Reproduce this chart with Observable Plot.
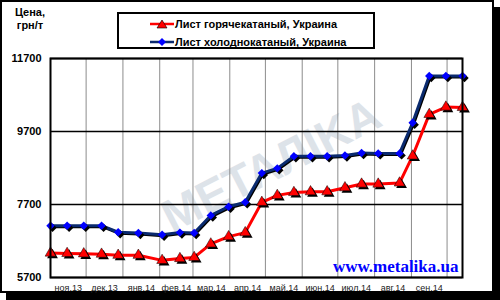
<!DOCTYPE html>
<html>
<head>
<meta charset="utf-8">
<script src="https://cdn.jsdelivr.net/npm/d3@7"></script>
<script src="https://cdn.jsdelivr.net/npm/@observablehq/plot@0.6"></script>
<style>
  html, body { margin: 0; padding: 0; background: #fff; }
  #wrap { position: relative; width: 500px; height: 300px; overflow: hidden; font-family: "Liberation Sans", Arial, sans-serif; }
  #box { position: absolute; left: 0; top: 0; width: 490px; height: 289px; border: 2px solid #000; box-shadow: 6px 7px 0 #000; background: #fff; }
  #chart { position: absolute; left: 0; top: 0; }
  #ytitle { position: absolute; left: 5px; top: 6px; width: 50px; text-align: center; font-weight: bold; font-size: 11px; line-height: 13px; color: #000; }
  #legend { position: absolute; left: 117px; top: 12px; width: 254px; height: 33px; border: 2px solid #000; background: #fff; }
  .item { position: absolute; left: 31px; height: 14px; display: flex; align-items: center; font-weight: bold; font-size: 11px; color: #000; white-space: nowrap; }
  .item svg { margin-right: 1px; }
</style>
</head>
<body>
<div id="wrap">
  <div id="box"></div>
  <div id="chart"></div>
  <div id="ytitle">Цена,<br>грн/т</div>
  <div id="legend"></div>
</div>
<script>
// ---- data ----
const dates = ["2013-11-01","2013-11-15","2013-11-29","2013-12-14","2013-12-28","2014-01-14","2014-02-03","2014-02-18","2014-03-02","2014-03-16","2014-03-31","2014-04-14","2014-04-28","2014-05-11","2014-05-25","2014-06-08","2014-06-22","2014-07-07","2014-07-21","2014-08-04","2014-08-22","2014-09-02","2014-09-16","2014-09-30","2014-10-14"];
const hotRolled  = [6370,6360,6350,6340,6310,6310,6170,6220,6250,6620,6820,6930,7760,7950,8030,8050,8050,8160,8260,8260,8290,9030,10170,10370,10360];
const coldRolled = [7120,7120,7120,7120,6940,6920,6870,6930,6920,7400,7640,7760,8560,8690,9020,9020,9020,9040,9110,9100,9100,9940,11220,11220,11220];
const seriesNames = ["Лист горячекатаный, Украина", "Лист холоднокатаный, Украина"];
const monthStarts = ["2013-11-01","2013-12-01","2014-01-01","2014-02-01","2014-03-01","2014-04-01","2014-05-01","2014-06-01","2014-07-01","2014-08-01","2014-09-01","2014-10-01"];
const monthLabels = ["ноя.13","дек.13","янв.14","фев.14","мар.14","апр.14","май.14","июн.14","июл.14","авг.14","сен.14"];
const yTicks = [5700, 7700, 9700, 11700];
const xStart = "2013-11-01", xEnd = "2014-10-14";
const siteText = "www.metalika.ua";
const logoText = "METAЛIKA";

const parse = d3.utcParse("%Y-%m-%d");
const red = "#ff0000", blue = "#0000ff", navy = "#0a2a6e";

const hot = dates.map((d, i) => ({date: parse(d), value: hotRolled[i]}));
const cold = dates.map((d, i) => ({date: parse(d), value: coldRolled[i]}));
const starts = monthStarts.map(parse);
const labels = monthLabels.map((t, i) => ({date: new Date((+starts[i] + +starts[i + 1]) / 2), text: t}));

const chart = Plot.plot({
  width: 500,
  height: 300,
  marginLeft: 50,
  marginRight: 38,
  marginTop: 58,
  marginBottom: 23,
  style: {background: "transparent", fontFamily: "Liberation Sans, Arial, sans-serif"},
  x: {type: "utc", domain: [parse(xStart), parse(xEnd)], axis: null},
  y: {domain: [5700, 11700], axis: null},
  marks: [
    Plot.text([logoText], {frameAnchor: "middle", dx: 15, dy: -2, rotate: -27, fontSize: 46, fontWeight: "bold", fill: "#dde3e9"}),
    Plot.ruleX(starts.slice(1), {stroke: "#8c8c8c", strokeWidth: 1}),
    Plot.ruleY(yTicks, {stroke: "#000", strokeWidth: 1.5}),
    Plot.line(cold, {x: "date", y: "value", stroke: "#000", strokeWidth: 3, dx: 1, dy: 1}),
    Plot.line(cold, {x: "date", y: "value", stroke: navy, strokeWidth: 3}),
    Plot.line(hot, {x: "date", y: "value", stroke: red, strokeWidth: 3}),
    Plot.dot(cold, {x: "date", y: "value", symbol: "diamond2", r: 3.8, fill: "#000", dx: 2, dy: 2}),
    Plot.dot(cold, {x: "date", y: "value", symbol: "diamond2", r: 3.8, fill: blue}),
    Plot.dot(hot, {x: "date", y: "value", symbol: "triangle", r: 4, fill: "#000", dx: 2, dy: 2}),
    Plot.dot(hot, {x: "date", y: "value", symbol: "triangle", r: 4, fill: red, stroke: "#000", strokeWidth: 0.5}),
    Plot.frame({stroke: "#000", strokeWidth: 2}),
    Plot.text([siteText], {frameAnchor: "bottom-right", dx: -4, dy: -6, textAnchor: "end", lineAnchor: "bottom", fontFamily: "Liberation Serif, Times New Roman, serif", fontWeight: "bold", fontSize: 17, fill: blue}),
    Plot.text(labels, {x: "date", text: "text", frameAnchor: "bottom", dy: 11, lineAnchor: "middle", fontSize: 9, fill: "#222"}),
    Plot.text(yTicks, {y: d => d, text: d => String(d), frameAnchor: "left", dx: -9, textAnchor: "end", fontSize: 11, fontWeight: "bold", fill: "#000"})
  ]
});
document.getElementById("chart").appendChild(chart);

// legend
const legend = document.getElementById("legend");
const mk = [
  {name: seriesNames[0], color: red, marker: '<polygon points="12,1 17,9 7,9" fill="' + red + '" stroke="#000" stroke-width="0.6"/>'},
  {name: seriesNames[1], color: navy, marker: '<polygon points="12,1 16,5 12,9 8,5" fill="' + blue + '"/>'}
];
mk.forEach((m, i) => {
  const div = document.createElement("div");
  div.className = "item";
  div.style.top = (i === 0 ? 3 : 21) + "px";
  div.innerHTML = '<svg width="24" height="10"><line x1="0" y1="5" x2="24" y2="5" stroke="' + m.color + '" stroke-width="2.5"/>' + m.marker + '</svg>' + m.name;
  legend.appendChild(div);
});
</script>
</body>
</html>
